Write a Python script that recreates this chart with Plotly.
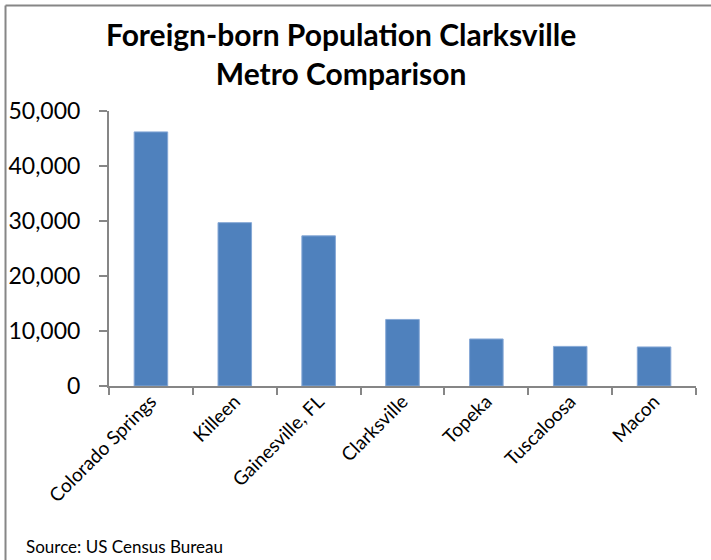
import plotly.graph_objects as go

cities = ["Colorado Springs", "Killeen", "Gainesville, FL", "Clarksville",
          "Topeka", "Tuscaloosa", "Macon"]
foreign_born = [46200, 29700, 27300, 12100, 8550, 7200, 7100]

BAR_COLOR = "#4F81BD"
AXIS_COLOR = "#868686"
FONT = "Lato"

fig = go.Figure(
    go.Bar(
        x=cities,
        y=foreign_born,
        marker=dict(color=BAR_COLOR, line=dict(color="#86a8d6", width=1)),
        width=0.4,
    )
)

fig.update_layout(
    width=711,
    height=560,
    paper_bgcolor="white",
    plot_bgcolor="white",
    showlegend=False,
    font=dict(family=FONT, color="black"),
    margin=dict(l=109, r=15, t=111, b=174, autoexpand=False),
)

fig.update_xaxes(
    automargin=False,
    showline=True,
    linecolor=AXIS_COLOR,
    linewidth=2,
    ticks="outside",
    tickson="boundaries",
    ticklen=7,
    tickwidth=2,
    tickcolor=AXIS_COLOR,
    tickangle=-45,
    ticklabelstandoff=-5,
    tickfont=dict(size=19),
    showgrid=False,
)

fig.update_yaxes(
    automargin=False,
    range=[0, 50000],
    dtick=10000,
    tickformat=",",
    showline=True,
    linecolor=AXIS_COLOR,
    linewidth=2,
    ticks="outside",
    ticklen=8,
    tickwidth=2,
    tickcolor=AXIS_COLOR,
    ticklabelstandoff=14,
    tickfont=dict(size=23),
    showgrid=False,
    zeroline=False,
)

# chart frame (only top and left edges are visible in the crop)
fig.add_shape(type="line", xref="paper", yref="paper",
              x0=-0.1763, x1=-0.1763, y0=-0.7, y1=1.3836,
              line=dict(color=AXIS_COLOR, width=2))
fig.add_shape(type="line", xref="paper", yref="paper",
              x0=-0.1763, x1=1.1, y0=1.3836, y1=1.3836,
              line=dict(color=AXIS_COLOR, width=2))

# title as an annotation so both lines sit where they should
fig.add_annotation(
    text="<b>Foreign-born Population Clarksville<br>Metro Comparison</b>",
    xref="paper",
    yref="paper",
    x=0.395,
    y=1.21,
    xanchor="center",
    yanchor="middle",
    showarrow=False,
    font=dict(family=FONT, size=30, color="black"),
)

fig.add_annotation(
    text="Source: US Census Bureau",
    xref="paper",
    yref="paper",
    x=-0.145,
    y=-0.585,
    xanchor="left",
    yanchor="middle",
    showarrow=False,
    font=dict(family=FONT, size=17, color="black"),
)

fig.write_html("out.html", config={"displayModeBar": False},
               post_script="document.body.style.margin='0';")
